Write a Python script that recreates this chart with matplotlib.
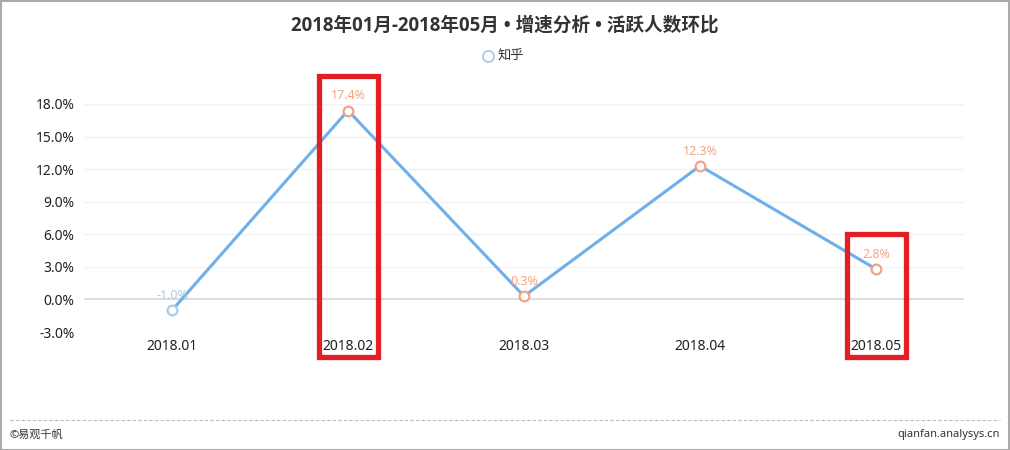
import matplotlib
matplotlib.use("Agg")
import matplotlib.pyplot as plt
from matplotlib.patches import Rectangle
from matplotlib.lines import Line2D

plt.rcParams['font.family'] = ['Noto Sans', 'Noto Sans CJK SC', 'DejaVu Sans']

categories = ["2018.01", "2018.02", "2018.03", "2018.04", "2018.05"]
values = [-1.0, 17.4, 0.3, 12.3, 2.8]
yticks = [-3, 0, 3, 6, 9, 12, 15, 18]
series_name = "知乎"
title = "2018年01月-2018年05月 • 增速分析 • 活跃人数环比"
highlight = ["2018.02", "2018.05"]

W, H = 1010, 450
fig = plt.figure(figsize=(W / 100, H / 100), dpi=100)
ax = fig.add_axes([84 / W, (H - 332) / H, (964 - 84) / W, (332 - 104) / H])

line_color = "#6fb0ea"
label_color = "#f4a283"
neg_color = "#a9cbe3"

x = list(range(len(categories)))
ax.plot(x, values, color=line_color, lw=2.2, zorder=3)
for xi, v in zip(x, values):
    c = neg_color if v < 0 else label_color
    ax.plot(xi, v, 'o', ms=7, mfc='white', mec=c, mew=1.6, zorder=4)
    ax.annotate(f"{v:.1f}%", (xi, v), xytext=(0, 6), textcoords='offset points',
                ha='center', va='bottom', color=c, fontsize=9)

ax.set_xlim(-0.5, len(categories) - 0.5)
ax.set_ylim(-3, 18)
ax.set_yticks(yticks)
ax.set_yticklabels([f"{t:.1f}%" for t in yticks])
ax.set_xticks(x)
ax.set_xticklabels(categories)
for t in yticks:
    ax.axhline(t, color="#dddddd" if t == 0 else "#f3f3f3", lw=1.5 if t == 0 else 1, zorder=1)
for s in ax.spines.values():
    s.set_visible(False)
ax.tick_params(length=0, labelsize=10, colors="#222222")
ax.tick_params(axis='y', pad=7)
ax.tick_params(axis='x', pad=5)

fig.text(0.5, (H - 26) / H, title, ha='center', va='center', fontsize=13.4,
         fontweight='bold', color="#333333", family=['Open Sans', 'Noto Sans CJK SC', 'DejaVu Sans'])
fig.add_artist(Line2D([488 / W], [(H - 56) / H], marker='o', ms=8, mfc='white',
                      mec=neg_color, mew=1.3, transform=fig.transFigure))
fig.text(498 / W, (H - 56) / H, series_name, ha='left', va='center', fontsize=9.5, color="#333333")

# highlight boxes
for cat in highlight:
    i = categories.index(cat)
    v = values[i]
    xd0 = ax.transData.transform((i, v))[0]
    y_top_px = ax.transData.transform((i, v))[1] + 35
    x0 = xd0 - 29
    fig.add_artist(Rectangle((x0 / W, 93 / H), 59 / W, (y_top_px - 93) / H,
                             fill=False, ec="#e31e25", lw=3.8, transform=fig.transFigure, zorder=5))

# footer
fig.add_artist(Line2D([10 / W, 1000 / W], [(H - 420) / H] * 2, color="#bbbbbb", lw=0.8,
                      ls=(0, (3, 2)), transform=fig.transFigure))
fig.text(10 / W, (H - 435) / H, "©易观千帆", ha='left', va='center', fontsize=8, color="#333333")
fig.text(1000 / W, (H - 435) / H, "qianfan.analysys.cn", ha='right', va='center', fontsize=8, color="#333333")
fig.add_artist(Rectangle((0.5 / W, 0.5 / H), (W - 1.5) / W, (H - 1.5) / H, fill=False,
                         ec="#aaaaaa", lw=1.5, transform=fig.transFigure))

fig.savefig("out.png", dpi=100)
